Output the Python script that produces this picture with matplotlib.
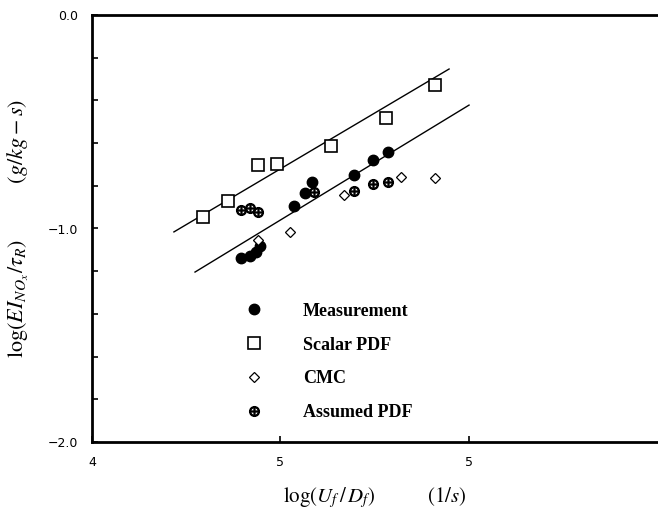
import numpy as np
import matplotlib
matplotlib.use("Agg")
import matplotlib.pyplot as plt
from matplotlib.ticker import MultipleLocator

plt.rcParams['mathtext.fontset'] = 'stix'

# data
meas_x = [4.79, 4.84, 4.87, 4.89, 5.07, 5.13, 5.17, 5.39, 5.49, 5.57]
meas_y = [-1.138, -1.129, -1.110, -1.082, -0.895, -0.834, -0.782, -0.749, -0.679, -0.642]

scalar_x = [4.59, 4.72, 4.88, 4.98, 5.27, 5.56, 5.82]
scalar_y = [-0.946, -0.871, -0.703, -0.698, -0.614, -0.482, -0.328]

cmc_x = [4.88, 5.05, 5.34, 5.64, 5.82]
cmc_y = [-1.054, -1.016, -0.843, -0.759, -0.763]

assumed_x = [4.79, 4.84, 4.88, 5.18, 5.39, 5.49, 5.57]
assumed_y = [-0.913, -0.904, -0.923, -0.829, -0.824, -0.792, -0.782]

# straight fit lines (end points)
fit_upper_x = [4.435, 5.896]
fit_upper_y = [-1.016, -0.253]
fit_lower_x = [4.547, 6.002]
fit_lower_y = [-1.204, -0.422]

xticks = [4, 5, 6]
xtick_labels = ['4', '5', '5']
yticks = [0.0, -1.0, -2.0]
ytick_labels = ['0.0', '\u22121.0', '\u22122.0']

fig = plt.figure(figsize=(6.58, 5.18), dpi=100)
ax = fig.add_axes([92 / 658, 76 / 518, 565 / 658, 427 / 518])

ax.plot(fit_upper_x, fit_upper_y, color='black', lw=1.0)
ax.plot(fit_lower_x, fit_lower_y, color='black', lw=1.0)

ax.plot(meas_x, meas_y, 'o', color='black', ms=7.5, ls='none', label='Measurement')
ax.plot(scalar_x, scalar_y, 's', mfc='white', mec='black', mew=1.2, ms=8.5,
        ls='none', label='Scalar PDF')
ax.plot(cmc_x, cmc_y, 'D', mfc='white', mec='black', mew=0.9, ms=5.5,
        ls='none', label='CMC')
ax.plot(assumed_x, assumed_y, marker=r'$\oplus$', color='black', ms=7,
        ls='none', label='Assumed PDF')

ax.set_xlim(4, 7)
ax.set_ylim(-2.0, 0.0)
ax.set_xticks(xticks)
ax.set_xticklabels(xtick_labels, fontsize=9, family='DejaVu Sans')
ax.set_yticks(yticks)
ax.set_yticklabels(ytick_labels, fontsize=9, family='DejaVu Sans')
ax.yaxis.set_minor_locator(MultipleLocator(0.2))
ax.tick_params(which='both', direction='in', length=4, width=1.2)
ax.tick_params(axis='x', pad=10)
ax.tick_params(axis='y', pad=10)

for s in ['left', 'bottom', 'top']:
    ax.spines[s].set_linewidth(2.0)
ax.spines['right'].set_visible(False)

ax.set_xlabel(r'$\log(U_f\,/\,D_f)$        $(1/s)$', fontsize=15, labelpad=12)
ax.set_ylabel(r'$\log(EI_{NO_x}/\tau_R)$        $(g/kg-s)$', fontsize=16, labelpad=12)

ax.legend(frameon=False, loc='upper left', bbox_to_anchor=(0.258, 0.343),
          prop={'family': 'Liberation Serif', 'weight': 'bold', 'size': 13},
          labelspacing=0.93, handletextpad=2.2, handlelength=1.0,
          borderaxespad=0)

fig.savefig('out.png', dpi=100)
